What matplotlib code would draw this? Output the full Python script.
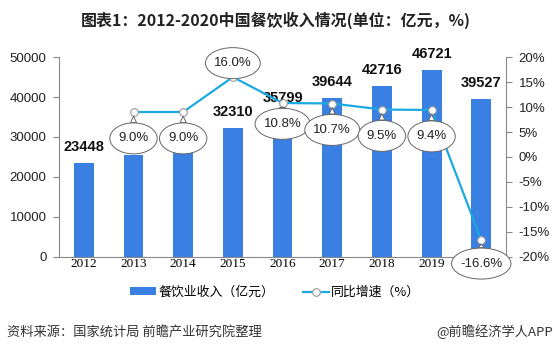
#!/usr/bin/env python3
"""2012-2020 China catering revenue with YoY growth"""
import matplotlib
matplotlib.use('Agg')
import matplotlib.pyplot as plt
from matplotlib.path import Path

plt.rcParams['font.family'] = ['Noto Sans CJK SC', 'DejaVu Sans']

years = ['2012', '2013', '2014', '2015', '2016', '2017', '2018', '2019', '2020']
revenue = [23448, 25392, 27860, 32310, 35799, 39644, 42716, 46721, 39527]
growth = [None, 9.0, 9.0, 16.0, 10.8, 10.7, 9.5, 9.4, -16.6]
# which bars carry a value label (2013/2014 are covered by bubbles)
show_label = [True, False, False, True, True, True, True, True, True]
# bubble offset in points (dy) for each growth label
bubble_dy = [0, -19, -19, 10, -15, -19, -19, -19, -17]


def ellipse_box(x0, y0, width, height, mutation_size):
    """ellipse shaped bbox around the text"""
    cx, cy = x0 + width / 2, y0 + height / 2
    a = width / 2 + 0.65 * mutation_size
    b = height / 2 + 0.72 * mutation_size
    circ = Path.unit_circle()
    verts = circ.vertices.copy()
    verts[:, 0] = cx + a * verts[:, 0]
    verts[:, 1] = cy + b * verts[:, 1]
    return Path(verts, circ.codes)


fig = plt.figure(figsize=(5.54, 3.52), dpi=100)
ax = fig.add_axes([0.1065, 0.270, 0.807, 0.568])
x = list(range(len(years)))

bars = ax.bar(x, revenue, width=0.4, color='#3a80e2', zorder=2,
              label='餐饮业收入（亿元）')
for i, b in enumerate(bars):
    if show_label[i]:
        ax.text(b.get_x() + b.get_width() / 2, revenue[i] + 4000,
                str(revenue[i]), ha='center', va='center',
                fontsize=10.5, fontweight='bold', family='Liberation Sans',
                color='#111111', zorder=3)

ax.set_ylim(0, 50000)
ax.set_yticks(range(0, 50001, 10000))
ax.set_xlim(-0.5, len(years) - 0.5)
ax.set_xticks(x)
ax.set_xticklabels(years, family='Liberation Serif', fontsize=9.5)
ax.tick_params(axis='x', length=0, pad=1)
ax.tick_params(axis='y', labelsize=9.5, length=4, color='#888888', pad=5,
               labelcolor='#222222')
for lab in ax.get_yticklabels():
    lab.set_family('Liberation Sans')
for s in ['top', 'right']:
    ax.spines[s].set_visible(False)
for s in ['left', 'bottom']:
    ax.spines[s].set_color('#888888')
    ax.spines[s].set_linewidth(0.8)

ax2 = ax.twinx()
ax2.set_ylim(-20, 20)
ax2.set_yticks(range(-20, 21, 5))
ax2.set_yticklabels([f'{v}%' for v in range(-20, 21, 5)])
ax2.tick_params(axis='y', labelsize=9.5, length=4, color='#888888', pad=5,
                labelcolor='#222222')
for lab in ax2.get_yticklabels():
    lab.set_family('Liberation Sans')
for s in ['top', 'left', 'bottom']:
    ax2.spines[s].set_visible(False)
ax2.spines['right'].set_color('#888888')
ax2.spines['right'].set_linewidth(0.8)

gx = [i for i in x if growth[i] is not None]
gy = [growth[i] for i in gx]
line, = ax2.plot(gx, gy, color='#1aa9e0', lw=1.6, marker='o', ms=5.5,
                 mfc='white', mec='#999999', mew=0.8, zorder=4,
                 label='同比增速（%）')

for i in gx:
    ax2.annotate(f'{growth[i]:.1f}%', xy=(i, growth[i]),
                 xytext=(0, bubble_dy[i]), textcoords='offset points',
                 ha='center', va='center', fontsize=9.5,
                 family='Liberation Sans', color='#222222', zorder=6,
                 bbox=dict(boxstyle=ellipse_box, fc='white', ec='#666666',
                           lw=0.7),
                 arrowprops=dict(arrowstyle='wedge,tail_width=0.45',
                                 fc='white', ec='#666666', lw=0.7,
                                 shrinkA=0, shrinkB=3),
                 annotation_clip=False)

handles = [bars, line]
fig.legend(handles, [h.get_label() for h in handles], loc='center',
           bbox_to_anchor=(0.497, 0.170), ncol=2, frameon=False,
           fontsize=9.3, handlelength=2.0, columnspacing=2.2,
           handletextpad=0.2, handleheight=0.5)

fig.text(0.497, 0.943, '图表1：2012-2020中国餐饮收入情况(单位：亿元，%)',
         ha='center', va='center', fontsize=11.5, fontweight='bold',
         color='#222222')
fig.text(0.013, 0.057, '资料来源：国家统计局 前瞻产业研究院整理',
         ha='left', va='center', fontsize=9.5, color='#333333')
fig.text(0.998, 0.057, '@前瞻经济学人APP', ha='right', va='center',
         fontsize=9.5, color='#333333')

fig.savefig('out.png', dpi=100)
